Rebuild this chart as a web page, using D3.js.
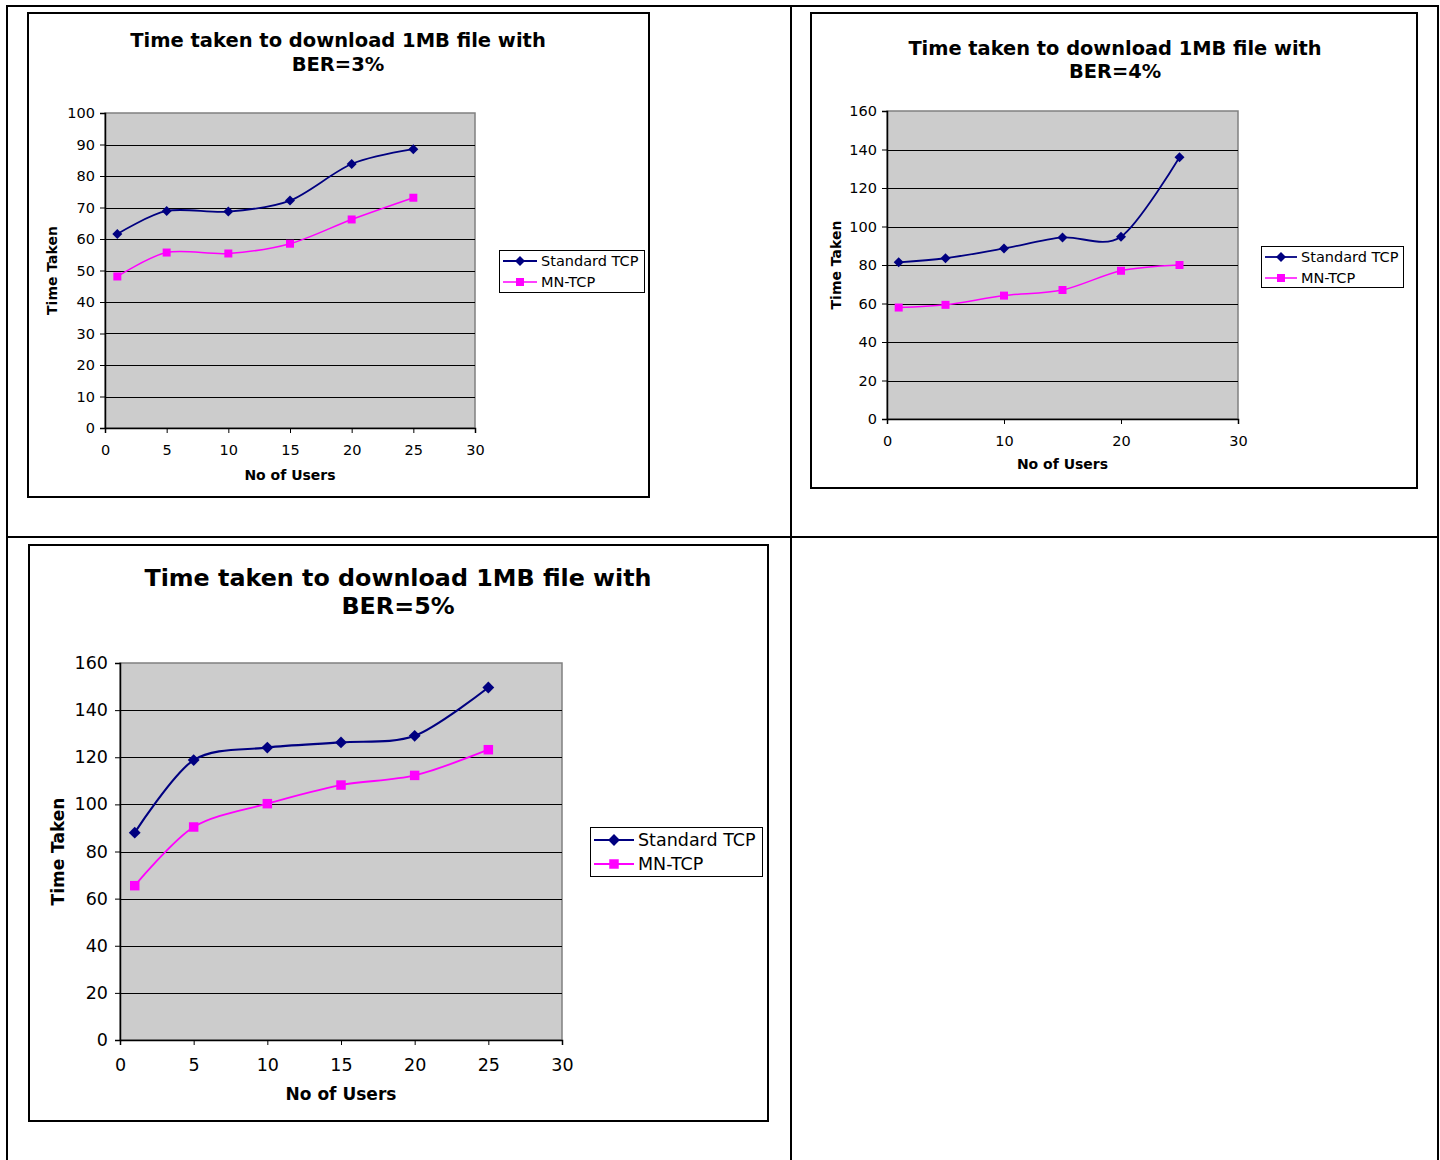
<!DOCTYPE html>
<html>
<head>
<meta charset="utf-8">
<script src="https://cdn.jsdelivr.net/npm/d3@7"></script>
<style>
  html, body { margin: 0; padding: 0; background: #fff; }
  svg { display: block; }
</style>
</head>
<body>
<svg id="page" width="1440" height="1160"></svg>
<script>
// Number of users on the x axis (shared by all three charts)
const users = [1, 5, 10, 15, 20, 25];
const seriesNames = ["Standard TCP", "MN-TCP"];

// Download time for a 1MB file, per bit error rate
const ber3Standard = [61.6, 68.9, 68.7, 72.2, 83.8, 88.5];
const ber3Mn       = [48.1, 55.7, 55.4, 58.5, 66.2, 73.1];
const ber4Standard = [81.4, 83.5, 88.6, 94.3, 94.7, 136.0];
const ber4Mn       = [57.9, 59.3, 64.1, 67.0, 77.0, 80.0];
const ber5Standard = [88.0, 118.8, 124.1, 126.3, 129.1, 149.6];
const ber5Mn       = [65.5, 90.4, 100.3, 108.2, 112.3, 123.2];

// Titles and tick labels
const titleLine1 = "Time taken to download 1MB file with";
const titleLine2 = ["BER=3%", "BER=4%", "BER=5%"];
const xAxisTitle = "No of Users";
const yAxisTitle = "Time Taken";
const xTicksFive = [0, 5, 10, 15, 20, 25, 30];
const xTicksTen  = [0, 10, 20, 30];
const yTicksHundred = [0, 10, 20, 30, 40, 50, 60, 70, 80, 90, 100];
const yTicksOneSixty = [0, 20, 40, 60, 80, 100, 120, 140, 160];

const FONT = "'DejaVu Sans', Verdana, sans-serif";
const NAVY = "#000080";
const MAGENTA = "#FF00FF";

const svg = d3.select("#page");

// Surrounding table grid
const grid = svg.append("g").attr("stroke", "#000").attr("stroke-width", 2).attr("fill", "none");
grid.append("line").attr("x1", 6).attr("x2", 1439).attr("y1", 6).attr("y2", 6);
grid.append("line").attr("x1", 7).attr("x2", 7).attr("y1", 5).attr("y2", 1160);
grid.append("line").attr("x1", 791).attr("x2", 791).attr("y1", 5).attr("y2", 1160);
grid.append("line").attr("x1", 1438).attr("x2", 1438).attr("y1", 5).attr("y2", 1160);
grid.append("line").attr("x1", 6).attr("x2", 1439).attr("y1", 537).attr("y2", 537);

// marker: square, optionally turned 45° into a diamond
function marker(sel, s, cx, cy) {
  sel.attr("transform", `translate(${cx},${cy})${s.rotate ? " rotate(45)" : ""}`)
    .attr("d", d3.symbol().type(d3.symbolSquare).size(s.size))
    .attr("fill", s.color);
}

function drawChart(cfg) {
  const g = svg.append("g");

  // chart frame
  g.append("rect")
    .attr("x", cfg.box[0]).attr("y", cfg.box[1])
    .attr("width", cfg.box[2] - cfg.box[0]).attr("height", cfg.box[3] - cfg.box[1])
    .attr("fill", "#fff").attr("stroke", "#000").attr("stroke-width", 2);

  // title
  const t = g.append("text")
    .attr("font-family", FONT).attr("font-weight", "bold")
    .attr("font-size", cfg.titleSize).attr("text-anchor", "middle").attr("fill", "#000");
  t.append("tspan").attr("x", cfg.titleX).attr("y", cfg.titleY[0]).text(titleLine1);
  t.append("tspan").attr("x", cfg.titleX).attr("y", cfg.titleY[1]).text(cfg.title2);

  const x = d3.scaleLinear().domain([0, 30]).range([cfg.plot[0], cfg.plot[2]]);
  const y = d3.scaleLinear().domain([0, cfg.yMax]).range([cfg.plot[3], cfg.plot[1]]);

  // plot area
  g.append("rect")
    .attr("x", cfg.plot[0]).attr("y", cfg.plot[1])
    .attr("width", cfg.plot[2] - cfg.plot[0]).attr("height", cfg.plot[3] - cfg.plot[1])
    .attr("fill", "#CCCCCC").attr("stroke", "#808080").attr("stroke-width", 1.5);

  // horizontal gridlines
  g.append("g").selectAll("line")
    .data(cfg.yTicks.filter(v => v > 0 && v < cfg.yMax))
    .join("line")
    .attr("x1", cfg.plot[0]).attr("x2", cfg.plot[2])
    .attr("y1", d => Math.round(y(d)) + 0.5).attr("y2", d => Math.round(y(d)) + 0.5)
    .attr("stroke", "#000").attr("stroke-width", 1);

  // axes
  const yAxis = g.append("g")
    .attr("transform", `translate(${cfg.plot[0]},0)`)
    .call(d3.axisLeft(y).tickValues(cfg.yTicks).tickSize(5).tickPadding(cfg.tickPad).tickFormat(d3.format("d")));
  const xAxis = g.append("g")
    .attr("transform", `translate(0,${cfg.plot[3]})`)
    .call(d3.axisBottom(x).tickValues(cfg.xTicks).tickSize(5).tickPadding(cfg.xTickPad).tickFormat(d3.format("d")));
  [xAxis, yAxis].forEach(a => {
    a.select(".domain").attr("stroke", "#000").attr("stroke-width", 1.5);
    a.selectAll(".tick line").attr("stroke", "#000");
    a.selectAll(".tick text").attr("font-family", FONT).attr("font-size", cfg.tickSize).attr("fill", "#000");
  });

  // axis titles
  g.append("text")
    .attr("x", (cfg.plot[0] + cfg.plot[2]) / 2).attr("y", cfg.xTitleY)
    .attr("text-anchor", "middle").attr("font-family", FONT).attr("font-weight", "bold")
    .attr("font-size", cfg.axisTitleSize).text(xAxisTitle);
  g.append("text")
    .attr("transform", `translate(${cfg.yTitleX},${(cfg.plot[1] + cfg.plot[3]) / 2}) rotate(-90)`)
    .attr("text-anchor", "middle").attr("font-family", FONT).attr("font-weight", "bold")
    .attr("font-size", cfg.axisTitleSize).text(yAxisTitle);

  // series
  const series = [
    { name: seriesNames[0], values: cfg.standard, color: NAVY, rotate: true, size: cfg.diamondSize, width: cfg.lineWidth + 0.3 },
    { name: seriesNames[1], values: cfg.mn, color: MAGENTA, rotate: false, size: cfg.squareSize, width: cfg.lineWidth }
  ];
  const line = d3.line().x(d => x(d[0])).y(d => y(d[1])).curve(d3.curveCardinal.tension(0.1));

  series.forEach(s => {
    const pts = users.map((u, i) => [u, s.values[i]]);
    g.append("path").attr("d", line(pts)).attr("fill", "none")
      .attr("stroke", s.color).attr("stroke-width", s.width);
    g.append("g").selectAll("path").data(pts).join("path")
      .each(function (d) { marker(d3.select(this), s, x(d[0]), y(d[1])); });
  });

  // legend
  const lg = g.append("g");
  lg.append("rect")
    .attr("x", cfg.legend[0] + 0.5).attr("y", cfg.legend[1] + 0.5)
    .attr("width", cfg.legend[2] - cfg.legend[0]).attr("height", cfg.legend[3] - cfg.legend[1])
    .attr("fill", "#fff").attr("stroke", "#000").attr("stroke-width", 1);
  series.forEach((s, i) => {
    const ly = cfg.legendRows[i];
    lg.append("line")
      .attr("x1", cfg.legendLine[0]).attr("x2", cfg.legendLine[1])
      .attr("y1", ly).attr("y2", ly)
      .attr("stroke", s.color).attr("stroke-width", s.width);
    marker(lg.append("path"), s, (cfg.legendLine[0] + cfg.legendLine[1]) / 2, ly);
    lg.append("text")
      .attr("x", cfg.legendLine[1] + 4).attr("y", ly).attr("dy", "0.36em")
      .attr("font-family", FONT).attr("font-size", cfg.legendSize).text(s.name);
  });
}

drawChart({
  box: [28, 13, 649, 497], plot: [105, 113, 475, 428],
  titleX: 338, titleY: [47, 71], titleSize: 19.5, title2: titleLine2[0],
  yMax: 100, yTicks: yTicksHundred, xTicks: xTicksFive,
  tickSize: 14.5, tickPad: 5, xTickPad: 12,
  xTitleY: 480, yTitleX: 57, axisTitleSize: 14,
  standard: ber3Standard, mn: ber3Mn,
  diamondSize: 50, squareSize: 64, lineWidth: 1.5,
  legend: [499, 250, 644, 292], legendRows: [261, 282], legendLine: [503, 537], legendSize: 14.5
});

drawChart({
  box: [811, 13, 1417, 488], plot: [887, 111, 1238, 419],
  titleX: 1115, titleY: [55, 78], titleSize: 19.4, title2: titleLine2[1],
  yMax: 160, yTicks: yTicksOneSixty, xTicks: xTicksTen,
  tickSize: 14.5, tickPad: 5, xTickPad: 12,
  xTitleY: 469, yTitleX: 841, axisTitleSize: 14,
  standard: ber4Standard, mn: ber4Mn,
  diamondSize: 50, squareSize: 64, lineWidth: 1.5,
  legend: [1261, 246, 1403, 287], legendRows: [257, 278], legendLine: [1265, 1297], legendSize: 14.5
});

drawChart({
  box: [29, 545, 768, 1121], plot: [120, 663, 562, 1040],
  titleX: 398, titleY: [586, 614], titleSize: 23.8, title2: titleLine2[2],
  yMax: 160, yTicks: yTicksOneSixty, xTicks: xTicksFive,
  tickSize: 17.5, tickPad: 7, xTickPad: 14,
  xTitleY: 1100, yTitleX: 64, axisTitleSize: 17,
  standard: ber5Standard, mn: ber5Mn,
  diamondSize: 70, squareSize: 90, lineWidth: 1.8,
  legend: [590, 827, 762, 876], legendRows: [840, 864], legendLine: [594, 634], legendSize: 17.5
});
</script>
</body>
</html>
